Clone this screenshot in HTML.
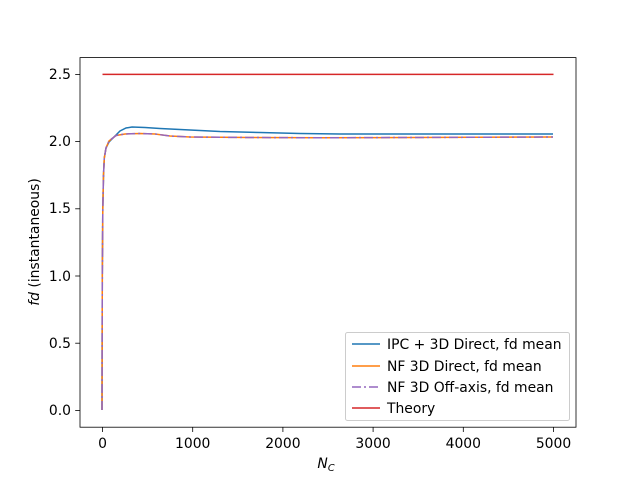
<!DOCTYPE html>
<html><head><style>body{margin:0;background:#fff}svg{display:block}text{font-family:"DejaVu Sans",sans-serif;font-size:13.9px;fill:#000}</style></head>
<body>
<svg width="640" height="480" xmlns="http://www.w3.org/2000/svg">
<rect x="80" y="57.6" width="496" height="369.6" fill="none" stroke="#000" stroke-width="0.8"/>
<g stroke="#000" stroke-width="0.8">
<line x1="102.5" y1="427.2" x2="102.5" y2="432"/><line x1="192.7" y1="427.2" x2="192.7" y2="432"/><line x1="282.9" y1="427.2" x2="282.9" y2="432"/><line x1="373.1" y1="427.2" x2="373.1" y2="432"/><line x1="463.3" y1="427.2" x2="463.3" y2="432"/><line x1="553.5" y1="427.2" x2="553.5" y2="432"/>
<line x1="75.2" y1="410.4" x2="80" y2="410.4"/><line x1="75.2" y1="343.2" x2="80" y2="343.2"/><line x1="75.2" y1="276" x2="80" y2="276"/><line x1="75.2" y1="208.8" x2="80" y2="208.8"/><line x1="75.2" y1="141.6" x2="80" y2="141.6"/><line x1="75.2" y1="74.4" x2="80" y2="74.4"/>
</g>
<g text-anchor="middle">
<text x="102.5" y="448">0</text><text x="192.7" y="448">1000</text><text x="282.9" y="448">2000</text><text x="373.1" y="448">3000</text><text x="463.3" y="448">4000</text><text x="553.5" y="448">5000</text>
<text x="326" y="468"><tspan font-style="italic">N</tspan><tspan font-size="9.7" font-style="italic" dy="3">C</tspan></text>
</g>
<g text-anchor="end">
<text x="71" y="415">0.0</text><text x="71" y="348">0.5</text><text x="71" y="281">1.0</text><text x="71" y="213">1.5</text><text x="71" y="146">2.0</text><text x="71" y="79">2.5</text>
</g>
<text transform="translate(39,242) rotate(-90)" text-anchor="middle"><tspan font-style="italic">fd</tspan> (instantaneous)</text>
<polyline fill="none" stroke="#1f77b4" stroke-width="1.5" points="102,410 102.3,276 102.8,209 103.5,175 104.3,158 106,148 109,142 114,137 120,131 126,128 132,127 145,127.5 160,128.5 180,129.5 200,130.5 220,131.5 260,132.5 300,133.5 340,134 400,134 553,134"/>
<polyline fill="none" stroke="#ff7f0e" stroke-width="1.5" points="102,410 102.3,276 102.8,209 103.5,175 104.3,158 106,148 109,141 116,135.5 125,134 140,133.5 155,134 170,136 190,137 250,137.5 320,137.8 553,137"/>
<polyline fill="none" stroke="#9467bd" stroke-width="1.5" stroke-dasharray="9,3,2,3" points="102,410 102.3,276 102.8,209 103.5,175 104.3,158 106,148 109,141 116,135.5 125,134 140,133.5 155,134 170,136 190,137 250,137.5 320,137.8 553,137"/>
<line x1="102.5" y1="74.4" x2="553.5" y2="74.4" stroke="#d62728" stroke-width="1.5"/>
<rect x="345.5" y="332.5" width="224" height="88" rx="2" fill="#fff" fill-opacity="0.8" stroke="#ccc"/>
<line x1="352" y1="344" x2="380" y2="344" stroke="#1f77b4" stroke-width="1.5"/>
<line x1="352" y1="366" x2="380" y2="366" stroke="#ff7f0e" stroke-width="1.5"/>
<line x1="352" y1="387" x2="380" y2="387" stroke="#9467bd" stroke-width="1.5" stroke-dasharray="9,3,2,3"/>
<line x1="352" y1="408" x2="380" y2="408" stroke="#d62728" stroke-width="1.5"/>
<text x="387" y="349">IPC + 3D Direct, fd mean</text>
<text x="387" y="371">NF 3D Direct, fd mean</text>
<text x="387" y="392">NF 3D Off-axis, fd mean</text>
<text x="387" y="413">Theory</text>
</svg>
</body></html>
